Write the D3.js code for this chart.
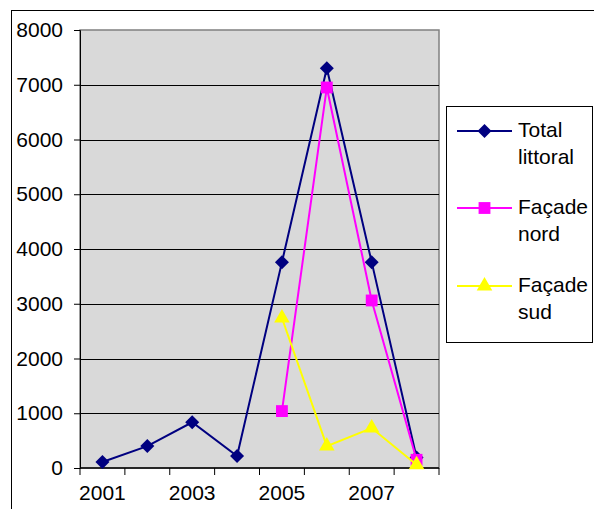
<!DOCTYPE html>
<html><head><meta charset="utf-8">
<script src="https://cdn.jsdelivr.net/npm/d3@7"></script>
<style>body{margin:0;background:#fff}svg{display:block}text{font-family:"Liberation Sans",Arial,sans-serif}</style>
</head><body>
<svg id="c" width="594" height="509"></svg>
<script>
const years = [2001,2002,2003,2004,2005,2006,2007,2008];
const yTicks = [0,1000,2000,3000,4000,5000,6000,7000,8000];
const xLabels = [2001,2003,2005,2007];
const totalLittoral = [110,400,835,220,3760,7300,3760,190];
const facadeNord = [null,null,null,null,1040,6950,3060,150];
const facadeSud = [null,null,null,null,2740,400,730,60];
const seriesNames = ["Total littoral","Façade nord","Façade sud"];
const seriesColors = ["#000080","#FF00FF","#FFFF00"];

const FS = 21;
const svg = d3.select("#c");
const L=80, R=439, T=30, B=468;
const x = d3.scaleBand().domain(years).range([L,R]);
const y = d3.scaleLinear().domain([0,8000]).range([B,T]);

// marker generators: rotated square (diamond), square, triangle
const diamond = d3.symbol().type(d3.symbolSquare).size(98);
const square = d3.symbol().type(d3.symbolSquare).size(140);
const triangle = d3.symbol().type(d3.symbolTriangle).size(105);
const markers = [
  g=>g.attr("d",diamond()).attr("transform-extra","rotate(45)"),
  g=>g.attr("d",square()),
  g=>g.attr("d",triangle())
];
const rot = [45,0,0];

// outer frame
svg.append("rect").attr("x",11.5).attr("y",10.5).attr("width",600).attr("height",520)
  .attr("fill","#fff").attr("stroke","#000").attr("stroke-width",1);

// plot area
svg.append("rect").attr("x",L).attr("y",T).attr("width",R-L).attr("height",B-T)
  .attr("fill","#D9D9D9").attr("stroke","#808080").attr("stroke-width",1.5);

// gridlines
svg.append("g").selectAll("line").data(yTicks.filter(d=>d>0&&d<8000)).join("line")
  .attr("x1",L).attr("x2",R).attr("y1",d=>Math.round(y(d))+0.5).attr("y2",d=>Math.round(y(d))+0.5)
  .attr("stroke","#000").attr("stroke-width",1);

// y axis
const yAxis = svg.append("g").attr("transform",`translate(${L},0)`)
  .call(d3.axisLeft(y).tickValues(yTicks).tickSize(6).tickPadding(11).tickFormat(d3.format("d")));
yAxis.select(".domain").attr("stroke","#000");
yAxis.selectAll("text").attr("font-size",FS).attr("fill","#000").attr("font-family","Liberation Sans, Arial, sans-serif");

// x axis with ticks at band boundaries
const xg = svg.append("g");
xg.append("line").attr("x1",L).attr("x2",R).attr("y1",B).attr("y2",B).attr("stroke","#000").attr("stroke-width",1.5);
const bounds = years.map(d=>x(d)).concat([x(years[years.length-1])+x.bandwidth()]);
xg.selectAll("line.tk").data(bounds).join("line").attr("class","tk")
  .attr("x1",d=>d).attr("x2",d=>d).attr("y1",B).attr("y2",B+7).attr("stroke","#000");
xg.selectAll("text").data(xLabels).join("text")
  .attr("x",d=>x(d)+x.bandwidth()/2).attr("y",500).attr("text-anchor","middle")
  .attr("font-size",FS).text(d=>d);

// series
const allSeries = [totalLittoral, facadeNord, facadeSud];
const gens = [diamond, square, triangle];
const cx = d=>x(d)+x.bandwidth()/2;
const line = d3.line().defined(d=>d[1]!=null).x(d=>cx(d[0])).y(d=>y(d[1]));
[0,1,2].forEach(i=>{
  const data = years.map((yr,j)=>[yr, allSeries[i][j]]);
  svg.append("path").datum(data).attr("d",line).attr("fill","none")
    .attr("stroke",seriesColors[i]).attr("stroke-width",2);
  svg.append("g").selectAll("path").data(data.filter(d=>d[1]!=null)).join("path")
    .attr("transform",d=>`translate(${cx(d[0])},${y(d[1])}) rotate(${rot[i]})`)
    .attr("d",gens[i]())
    .attr("fill",seriesColors[i]);
});

// legend
const lg = svg.append("g");
lg.append("rect").attr("x",446.5).attr("y",106.5).attr("width",146).attr("height",236)
  .attr("fill","#fff").attr("stroke","#000");
const rowY = [131,208,286];
const lines2 = [["Total","littoral"],["Façade","nord"],["Façade","sud"]];
rowY.forEach((ry,i)=>{
  lg.append("line").attr("x1",457).attr("x2",512).attr("y1",ry).attr("y2",ry)
    .attr("stroke",seriesColors[i]).attr("stroke-width",2);
  lg.append("path").attr("transform",`translate(484.5,${ry}) rotate(${rot[i]})`)
    .attr("d",gens[i]()).attr("fill",seriesColors[i]);
  lg.append("text").attr("x",518).attr("y",ry+5.5).attr("font-size",FS).text(lines2[i][0]);
  lg.append("text").attr("x",518).attr("y",ry+33).attr("font-size",FS).text(lines2[i][1]);
});
</script>
</body></html>
